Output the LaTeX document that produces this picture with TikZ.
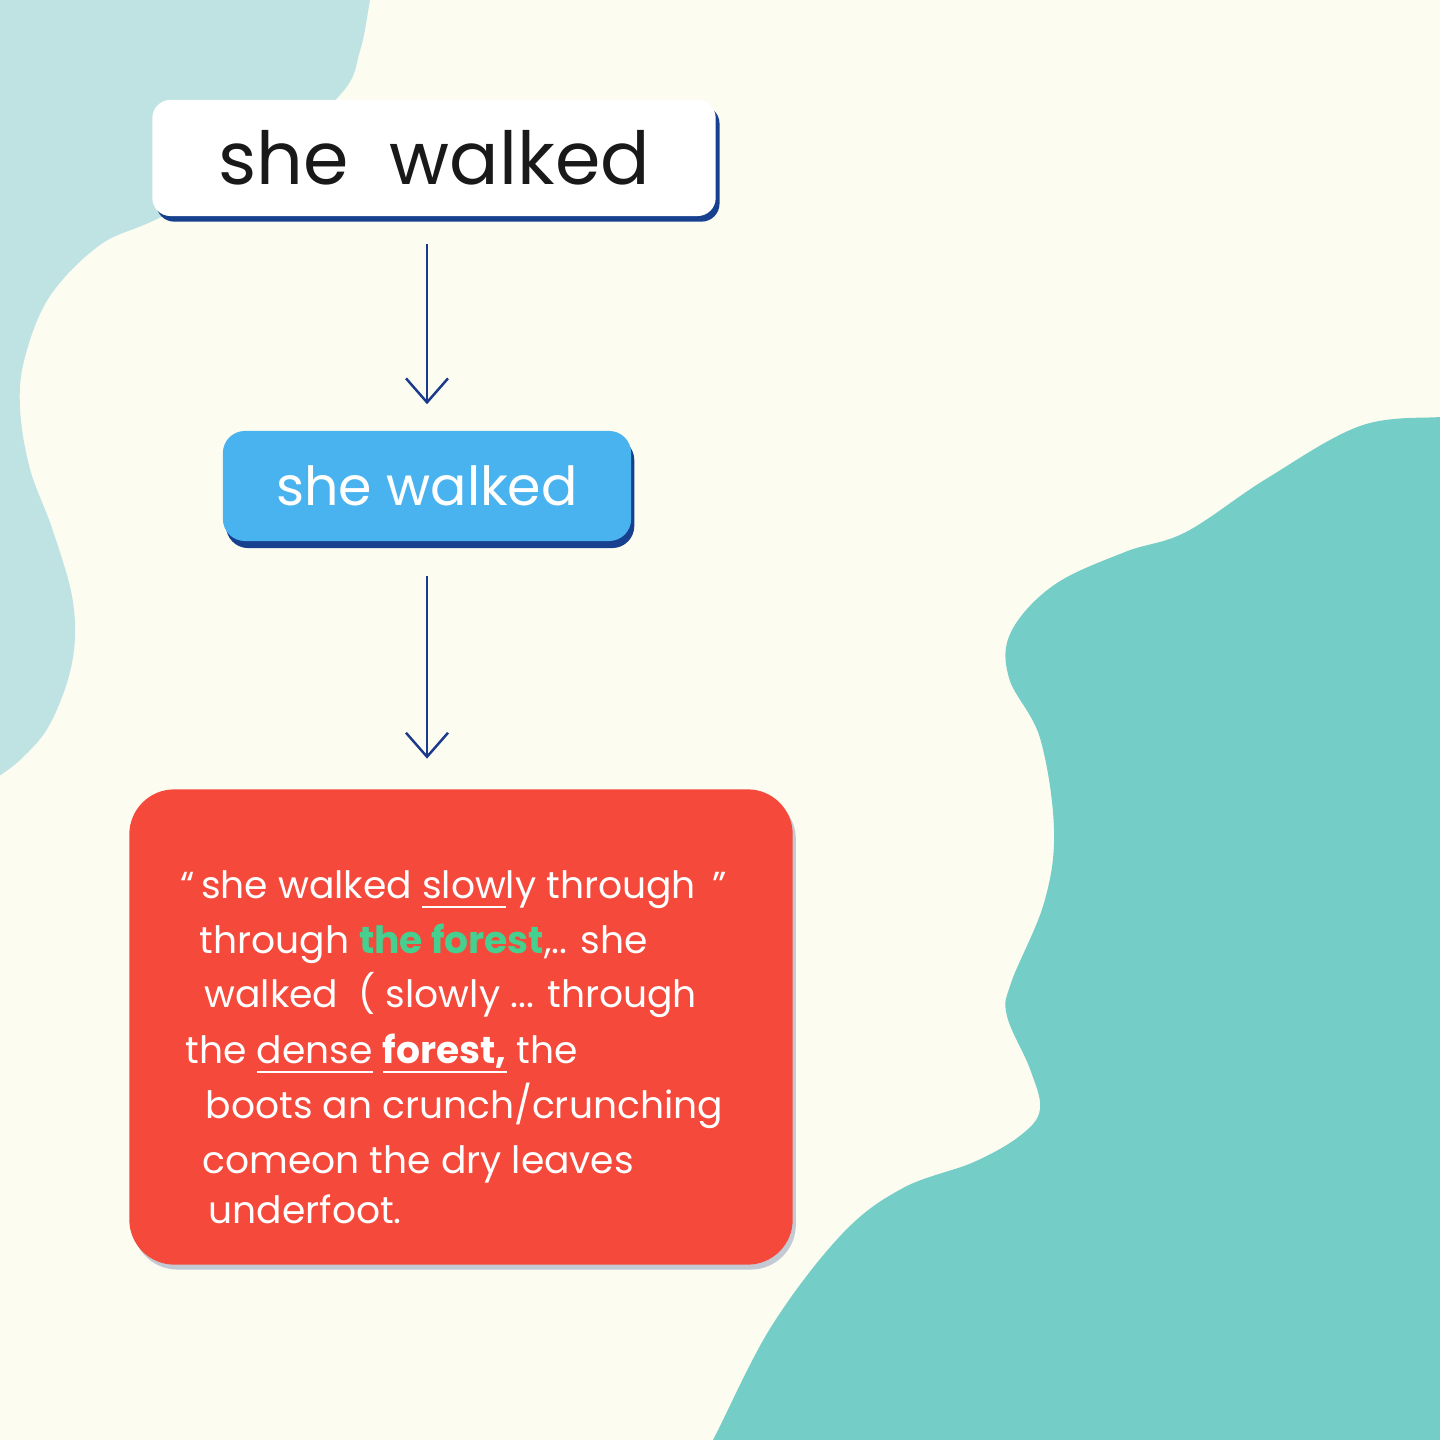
\documentclass[tikz,border=0pt]{standalone}
\usepackage{fontspec}
\setmainfont{Poppins}
\usetikzlibrary{arrows.meta}
\usetikzlibrary{shadows}
\definecolor{cream}{HTML}{FCFCF1}
\definecolor{paleteal}{HTML}{BFE3E3}
\definecolor{seateal}{HTML}{74CDC7}
\definecolor{skyblue}{HTML}{49B3EF}
\definecolor{navy}{HTML}{17418F}
\definecolor{arrowblue}{HTML}{1B3A8C}
\definecolor{tomato}{HTML}{F5493B}
\definecolor{mint}{HTML}{45D08F}
\definecolor{greyshade}{HTML}{C3CAD3}
\tikzset{>={Straight Barb[length=2.4mm,width=4.2mm]}}
\tikzset{topbox/.style = {rectangle,rounded corners=0.18cm,fill=white,minimum width=5.63cm,minimum height=1.16cm,inner sep=0pt,
    drop shadow={shadow xshift=1.1pt,shadow yshift=-1.6pt,fill=navy,opacity=1},font=\fontsize{20.8}{24}\selectfont,text=black!90}}
\tikzset{bluebox/.style = {rectangle,rounded corners=0.22cm,fill=skyblue,minimum width=4.08cm,minimum height=1.10cm,inner sep=0pt,
    drop shadow={shadow xshift=0.9pt,shadow yshift=-2pt,fill=navy,opacity=1},font=\fontsize{15.3}{18}\selectfont,text=white}}
\tikzset{redbox/.style = {rectangle,rounded corners=0.45cm,fill=tomato,minimum width=6.63cm,minimum height=4.75cm,inner sep=0pt,
    drop shadow={shadow xshift=0.9pt,shadow yshift=-1.4pt,fill=greyshade,opacity=1}}}
\tikzset{redtxt/.style = {anchor=base west,inner sep=0pt,text=white,font=\fontsize{10.7}{12}\selectfont}}
\tikzset{flow/.style = {->,draw=arrowblue,line width=0.7pt}}
\newcommand\undl[1]{\setbox0=\hbox{#1}\rlap{\rule[-0.27em]{\wd0}{0.07em}}\box0\relax}
\begin{document}
\begin{tikzpicture}[x=0.01cm,y=-0.01cm]
    \useasboundingbox (0,0) rectangle (1440,1440);
    \fill[cream] (0,0) rectangle (1440,1440);
    \begin{scope}
        \clip (0,0) rectangle (1440,1440);
        % backdrop blobs
        \fill[paleteal] (-10,-10) -- plot[smooth,tension=0.6] coordinates {(372,-10) (370,0) (360,51) (340,95) (255,168) (157,219)
            (100,245) (50,296) (25,357) (20,408) (30,469) (53,531) (73,602) (72,663) (50,724) (20,760) (-10,782)} -- cycle;
        \fill[seateal] (1450,1450) -- plot[smooth,tension=0.6] coordinates {(700,1460) (714,1438) (771,1327) (842,1234) (903,1188)
            (974,1162) (1021,1135) (1040,1109) (1030,1069) (1007,1016) (1011,983) (1044,903) (1054,830) (1040,738) (1009,678)
            (1011,632) (1054,585) (1125,552) (1186,532) (1266,479) (1360,426) (1440,417) (1460,417)} -- cycle;
    \end{scope}

    \node[topbox] (top) at (434,158) {she\hspace{0.3em} walked};
    \node[bluebox] (mid) at (427,486) {she walked};
    \node[redbox] (red) at (461,1027) {};

    \draw[flow,shorten <=0.27cm,shorten >=0.26cm] (top.south -| mid.north) -- (mid.north);
    \draw[flow,shorten <=0.34cm,shorten >=0.30cm] (mid.south) -- (mid.south |- red.north);

    \node[redtxt] (t1) at (180,898) {“\,she walked \undl{slow}ly through\, ”};
    \node[redtxt] (t2) at (199,953) {through \textbf{\color{mint}the forest},.. she};
    \node[redtxt] (t3) at (204,1007) {walked\; ( slowly ... through};
    \node[redtxt] (t4) at (185,1063) {the \undl{dense} \undl{\textbf{forest,}} the};
    \node[redtxt] (t5) at (205,1118) {boots an crunch/crunching};
    \node[redtxt] (t6) at (202,1173) {comeon the dry leaves};
    \node[redtxt] (t7) at (208,1223) {underfoot.};
\end{tikzpicture}
\end{document}
